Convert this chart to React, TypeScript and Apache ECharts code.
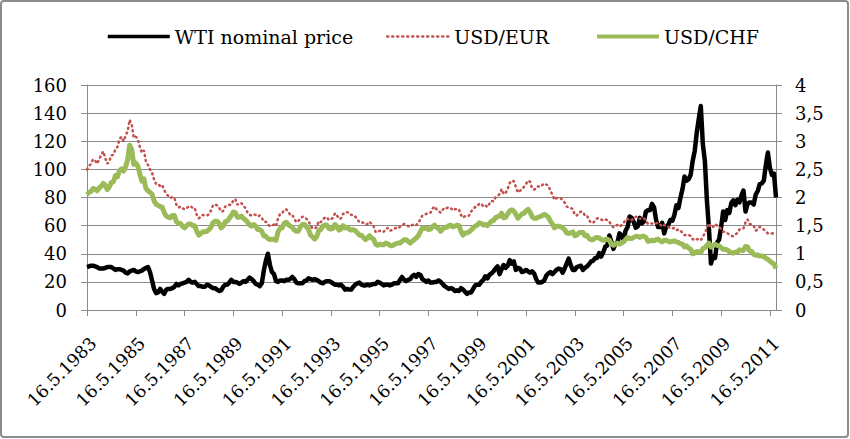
import { useEffect, useRef } from "react";
import * as echarts from "echarts";

// monthly values, May 1983 .. Aug 2011
const wtiPrice = [
  // 1983 (May-Dec)
  30.5, 31, 31.5, 31.5, 31, 30.5, 29.5, 29.5,
  // 1984
  29.5, 30, 30.5, 30.5, 30.5, 29.5, 28.5, 29, 29, 28.5, 28, 26.5,
  // 1985
  26, 27.5, 28, 28.5, 27.5, 27, 27.5, 28, 29, 30, 30.5, 27,
  // 1986
  21, 15, 12, 12.5, 15, 13, 11.5, 14.5, 15, 15, 15.5, 16.5,
  // 1987
  18.5, 17.5, 18.5, 19, 19.5, 20, 21.5, 20, 19.5, 20, 18.5, 17,
  // 1988
  17, 16.5, 16.5, 18, 17.5, 16.5, 15.5, 15.5, 14.5, 13.5, 14, 16.5,
  // 1989
  18, 18, 19.5, 21.5, 20, 20, 19.5, 18.5, 19.5, 20.5, 20, 21.5,
  // 1990
  23, 22, 20.5, 18.5, 18, 17, 19, 28, 35, 40, 32, 27,
  // 1991
  25.5, 20.5, 20, 21, 21, 20.5, 21.5, 21.5, 22, 23.5, 22, 19.5,
  // 1992
  19, 19, 19, 20.5, 21, 22.5, 22, 21.5, 22, 21.5, 20.5, 19.5,
  // 1993
  19, 20, 20.5, 20.5, 20, 19, 18, 18, 17.5, 18, 16.5, 14.5,
  // 1994
  15, 14.5, 14.5, 16.5, 18, 19, 19.5, 18, 17.5, 17.5, 18, 17.5,
  // 1995
  18, 18.5, 18.5, 20, 19.5, 18.5, 17.5, 18, 18, 17.5, 18, 19,
  // 1996
  19, 19, 21.5, 23.5, 21.5, 20.5, 21.5, 22, 24, 25, 23.5, 25.5,
  // 1997
  25, 22, 21, 20, 21, 19.5, 19.5, 20, 20, 21, 20, 18.5,
  // 1998
  17, 16, 15, 15.5, 15, 13.5, 14, 13.5, 15.5, 14.5, 13, 11.5,
  // 1999
  12.5, 12.5, 15, 17.5, 18, 18, 20, 21.5, 24, 22.5, 25, 26,
  // 2000
  27.5, 29.5, 31, 25.5, 29, 32, 30, 31.5, 35.5, 33, 34.5, 28.5,
  // 2001
  30, 29.5, 27, 27.5, 28.5, 27.5, 26.5, 27.5, 26, 22, 19.5, 19.5,
  // 2002
  20, 21, 24.5, 26, 27, 25.5, 27, 28.5, 29.5, 29, 26.5, 29.5,
  // 2003
  33, 36.5, 32, 28.5, 28.5, 30.5, 31, 31.5, 28.5, 30, 31, 32.5,
  // 2004
  34.5, 35, 37, 37, 40.5, 38, 41, 45, 46, 53, 48.5, 43.5,
  // 2005
  47, 48, 54.5, 53, 50, 56.5, 59, 66.5, 65.5, 62.5, 58.5, 59.5,
  // 2006
  65.5, 61.5, 63, 70, 71, 71, 75.5, 73, 64, 59, 59, 62,
  // 2007
  54.5, 59.5, 60.5, 64, 63.5, 67.5, 74.5, 72.5, 80, 86, 95, 92,
  // 2008
  93, 96, 106, 113, 126, 136, 145, 118, 106, 78, 58, 33,
  // 2009
  38, 37, 48, 50, 59, 70, 64, 71, 69, 76, 78, 74.5,
  // 2010
  78.5, 76.5, 81.5, 85, 70, 75.5, 76.5, 76.5, 75, 82, 84.5, 89.5,
  // 2011 (Jan-Aug)
  90, 92, 103, 112, 101, 96, 97, 80,
];

const usdEur = [
  2.5, 2.56, 2.6, 2.68, 2.66, 2.6, 2.68, 2.76,
  2.82, 2.7, 2.6, 2.65, 2.75, 2.76, 2.86, 2.9, 3.04, 3.08, 3.0, 3.1,
  3.18, 3.38, 3.3, 3.06, 3.08, 3.04, 2.9, 2.8, 2.84, 2.64, 2.58, 2.5,
  2.44, 2.32, 2.24, 2.24, 2.2, 2.22, 2.13, 2.06, 2.03, 1.99, 2.01, 1.99,
  1.87, 1.82, 1.84, 1.81, 1.79, 1.81, 1.84, 1.85, 1.81, 1.81, 1.69, 1.63,
  1.66, 1.69, 1.68, 1.68, 1.7, 1.77, 1.86, 1.88, 1.86, 1.82, 1.75, 1.76,
  1.84, 1.85, 1.87, 1.87, 1.95, 1.97, 1.87, 1.9, 1.9, 1.85, 1.81, 1.73,
  1.69, 1.68, 1.7, 1.69, 1.66, 1.68, 1.64, 1.57, 1.57, 1.52, 1.49, 1.5,
  1.52, 1.49, 1.63, 1.71, 1.72, 1.78, 1.79, 1.75, 1.69, 1.69, 1.62, 1.56,
  1.58, 1.63, 1.66, 1.65, 1.62, 1.58, 1.5, 1.45, 1.45, 1.47, 1.58, 1.56,
  1.61, 1.64, 1.65, 1.6, 1.61, 1.64, 1.72, 1.68, 1.62, 1.63, 1.71, 1.71,
  1.74, 1.73, 1.69, 1.69, 1.66, 1.62, 1.56, 1.56, 1.55, 1.52, 1.53, 1.57,
  1.53, 1.49, 1.39, 1.38, 1.41, 1.41, 1.39, 1.44, 1.46, 1.41, 1.42, 1.44,
  1.46, 1.45, 1.48, 1.51, 1.53, 1.52, 1.49, 1.48, 1.51, 1.53, 1.51, 1.55,
  1.61, 1.68, 1.69, 1.71, 1.71, 1.73, 1.8, 1.84, 1.79, 1.76, 1.73, 1.78,
  1.82, 1.81, 1.83, 1.81, 1.77, 1.79, 1.8, 1.79, 1.69, 1.64, 1.67, 1.67,
  1.68, 1.75, 1.8, 1.83, 1.84, 1.89, 1.89, 1.84, 1.86, 1.83, 1.89, 1.94,
  1.93, 2.0, 2.03, 2.06, 2.15, 2.06, 2.08, 2.16, 2.26, 2.3, 2.29, 2.19,
  2.09, 2.12, 2.14, 2.19, 2.24, 2.3, 2.28, 2.16, 2.14, 2.16, 2.2, 2.19,
  2.22, 2.25, 2.23, 2.21, 2.12, 2.05, 1.96, 1.99, 1.99, 1.99, 1.95, 1.91,
  1.84, 1.82, 1.81, 1.8, 1.69, 1.68, 1.72, 1.75, 1.74, 1.68, 1.68, 1.6,
  1.55, 1.55, 1.59, 1.63, 1.63, 1.61, 1.59, 1.61, 1.6, 1.57, 1.51, 1.47,
  1.5, 1.51, 1.48, 1.51, 1.54, 1.61, 1.62, 1.59, 1.6, 1.63, 1.66, 1.65,
  1.62, 1.64, 1.63, 1.59, 1.53, 1.54, 1.54, 1.53, 1.54, 1.55, 1.52, 1.48,
  1.51, 1.5, 1.48, 1.45, 1.45, 1.46, 1.42, 1.43, 1.41, 1.37, 1.33, 1.34,
  1.33, 1.32, 1.26, 1.24, 1.26, 1.26, 1.24, 1.31, 1.36, 1.46, 1.54, 1.47,
  1.47, 1.53, 1.5, 1.48, 1.44, 1.39, 1.39, 1.37, 1.34, 1.32, 1.31, 1.34,
  1.37, 1.43, 1.44, 1.45, 1.56, 1.61, 1.53, 1.52, 1.5, 1.41, 1.43, 1.48,
  1.46, 1.43, 1.4, 1.36, 1.36, 1.36, 1.37, 1.37,
];

const usdChf = [
  2.05, 2.09, 2.11, 2.16, 2.15, 2.12, 2.17, 2.2,
  2.25, 2.22, 2.14, 2.19, 2.27, 2.28, 2.39, 2.37, 2.48, 2.51, 2.47, 2.55,
  2.67, 2.93, 2.85, 2.59, 2.61, 2.56, 2.42, 2.29, 2.33, 2.16, 2.12, 2.09,
  2.06, 1.94, 1.88, 1.86, 1.84, 1.83, 1.73, 1.67, 1.65, 1.64, 1.68, 1.68,
  1.57, 1.54, 1.54, 1.49, 1.46, 1.5, 1.53, 1.53, 1.5, 1.5, 1.4, 1.33,
  1.36, 1.39, 1.39, 1.4, 1.43, 1.47, 1.55, 1.58, 1.58, 1.54, 1.46, 1.49,
  1.57, 1.58, 1.63, 1.68, 1.74, 1.73, 1.65, 1.65, 1.67, 1.63, 1.6, 1.56,
  1.51, 1.49, 1.52, 1.49, 1.43, 1.43, 1.4, 1.32, 1.31, 1.27, 1.25, 1.26,
  1.25, 1.24, 1.39, 1.45, 1.46, 1.54, 1.56, 1.52, 1.49, 1.47, 1.42, 1.4,
  1.4, 1.48, 1.52, 1.52, 1.48, 1.43, 1.33, 1.3, 1.26, 1.3, 1.41, 1.43,
  1.49, 1.51, 1.51, 1.45, 1.44, 1.45, 1.52, 1.48, 1.42, 1.44, 1.5, 1.46,
  1.47, 1.44, 1.42, 1.43, 1.41, 1.37, 1.33, 1.33, 1.29, 1.25, 1.28, 1.32,
  1.28, 1.26, 1.17, 1.15, 1.17, 1.16, 1.16, 1.19, 1.18, 1.15, 1.14, 1.16,
  1.18, 1.19, 1.19, 1.22, 1.25, 1.25, 1.22, 1.19, 1.22, 1.25, 1.28, 1.32,
  1.39, 1.46, 1.45, 1.46, 1.43, 1.44, 1.48, 1.51, 1.47, 1.45, 1.4, 1.44,
  1.47, 1.47, 1.5, 1.51, 1.48, 1.49, 1.51, 1.5, 1.4, 1.33, 1.37, 1.37,
  1.39, 1.42, 1.46, 1.49, 1.51, 1.55, 1.54, 1.51, 1.52, 1.5, 1.54, 1.58,
  1.59, 1.64, 1.66, 1.67, 1.72, 1.64, 1.65, 1.71, 1.76, 1.78, 1.76, 1.7,
  1.63, 1.67, 1.71, 1.72, 1.76, 1.79, 1.74, 1.66, 1.63, 1.63, 1.65, 1.66,
  1.68, 1.7, 1.68, 1.65, 1.58, 1.53, 1.46, 1.49, 1.49, 1.48, 1.46, 1.43,
  1.37, 1.36, 1.37, 1.39, 1.32, 1.33, 1.37, 1.38, 1.38, 1.32, 1.33, 1.27,
  1.25, 1.25, 1.28, 1.29, 1.28, 1.25, 1.24, 1.25, 1.26, 1.24, 1.17, 1.15,
  1.17, 1.19, 1.17, 1.19, 1.21, 1.25, 1.29, 1.27, 1.27, 1.29, 1.31, 1.31,
  1.29, 1.31, 1.31, 1.29, 1.22, 1.23, 1.24, 1.23, 1.25, 1.26, 1.23, 1.21,
  1.24, 1.24, 1.22, 1.21, 1.22, 1.23, 1.21, 1.2, 1.18, 1.17, 1.12, 1.14,
  1.1, 1.08, 1.0, 1.01, 1.04, 1.03, 1.02, 1.09, 1.11, 1.15, 1.19, 1.12,
  1.14, 1.17, 1.15, 1.14, 1.11, 1.08, 1.08, 1.07, 1.04, 1.02, 1.01, 1.03,
  1.03, 1.07, 1.06, 1.06, 1.13, 1.12, 1.05, 1.04, 0.99, 0.97, 0.98, 0.96,
  0.96, 0.95, 0.92, 0.9, 0.87, 0.84, 0.82, 0.74,
];

// category labels: 16.M.YYYY, one per month starting 16.5.1983
const dates = wtiPrice.map((_, i) => {
  const m = 4 + i;
  return `16.${(m % 12) + 1}.${1983 + Math.floor(m / 12)}`;
});

const FONT = "DejaVu Serif";
const GRID_COLOR = "#8a8a8a";

const legendBase = {
  top: 22,
  itemWidth: 62,
  itemHeight: 14,
  itemStyle: { opacity: 0 },
  textStyle: { fontFamily: FONT, fontSize: 19, color: "#000" },
};

export default function App() {
  const chartRef = useRef<HTMLDivElement | null>(null);

  useEffect(() => {
    const el = chartRef.current;
    if (!el) return undefined;

    const chart = echarts.init(el, undefined, { renderer: "svg" });

    chart.setOption({
      animation: false,
      backgroundColor: "#ffffff",
      textStyle: { fontFamily: FONT, color: "#000" },
      graphic: [
        {
          type: "rect",
          shape: { x: 1, y: 1, width: 847, height: 436, r: 3 },
          style: { fill: "none", stroke: "#8c8c8c", lineWidth: 2 },
        },
      ],
      legend: [
        { ...legendBase, left: 101, data: [{ name: "WTI nominal price", lineStyle: { width: 3.5 } }] },
        { ...legendBase, left: 381, data: [{ name: "USD/EUR", lineStyle: { width: 2.5 } }] },
        { ...legendBase, left: 590, data: [{ name: "USD/CHF", lineStyle: { width: 4 } }] },
      ],
      grid: { left: 87, right: 74, top: 85, bottom: 129, outerBoundsMode: "none" },
      xAxis: {
        type: "category",
        data: dates,
        boundaryGap: false,
        axisLine: { lineStyle: { color: GRID_COLOR, width: 1 } },
        axisTick: { interval: 23, length: 6, lineStyle: { color: GRID_COLOR } },
        axisLabel: {
          interval: 23,
          rotate: 45,
          margin: 24,
          verticalAlign: "top",
          fontFamily: FONT,
          fontSize: 17.5,
          color: "#000",
        },
        splitLine: { show: false },
      },
      yAxis: [
        {
          type: "value",
          min: 0,
          max: 160,
          interval: 20,
          axisLine: { show: true, lineStyle: { color: GRID_COLOR } },
          axisTick: { show: true, length: 6, lineStyle: { color: GRID_COLOR } },
          axisLabel: { margin: 20, fontFamily: FONT, fontSize: 18, color: "#000" },
          splitLine: { show: true, lineStyle: { color: GRID_COLOR, width: 1 } },
        },
        {
          type: "value",
          min: 0,
          max: 4,
          interval: 0.5,
          axisLine: { show: true, lineStyle: { color: GRID_COLOR } },
          axisTick: { show: true, length: 6, lineStyle: { color: GRID_COLOR } },
          axisLabel: {
            margin: 19,
            fontFamily: FONT,
            fontSize: 18,
            color: "#000",
            formatter: (v: number) => String(v).replace(".", ","),
          },
          splitLine: { show: false },
        },
      ],
      series: [
        {
          name: "WTI nominal price",
          type: "line",
          yAxisIndex: 0,
          data: wtiPrice,
          symbol: "none",
          color: "#000000",
          lineStyle: { color: "#000000", width: 4.5, join: "round" },
        },
        {
          name: "USD/EUR",
          type: "line",
          yAxisIndex: 1,
          data: usdEur,
          symbol: "none",
          color: "#C0504D",
          lineStyle: { color: "#C0504D", width: 2.5, type: [1, 4], cap: "round" },
        },
        {
          name: "USD/CHF",
          type: "line",
          yAxisIndex: 1,
          data: usdChf,
          symbol: "none",
          color: "#9BBB59",
          lineStyle: { color: "#9BBB59", width: 5, join: "round" },
        },
      ],
    });

    return () => {
      chart.dispose();
    };
  }, []);

  return (
    <div
      ref={chartRef}
      style={{ position: "absolute", left: 0, top: 0, width: 850, height: 439 }}
    />
  );
}
